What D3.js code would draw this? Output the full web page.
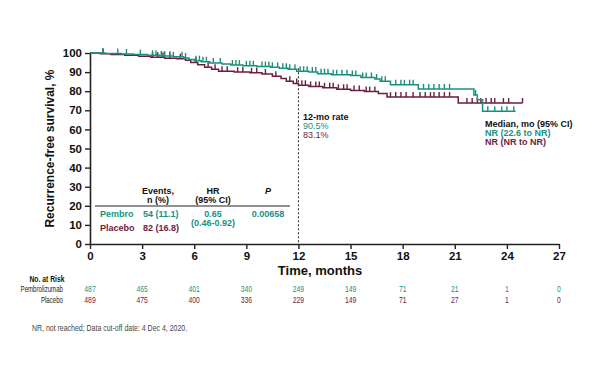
<!DOCTYPE html>
<html>
<head>
<meta charset="utf-8">
<script src="https://cdn.jsdelivr.net/npm/d3@7"></script>
<style>
  body { margin: 0; background: #fff; }
  svg { font-family: "Liberation Sans", Arial, sans-serif; }
</style>
</head>
<body>
<svg width="600" height="365"></svg>
<script>
// цвета серий
const teal = "#17917f";
const maroon = "#6b1d42";

// шаги кривых Каплана-Мейера: [месяц, выживаемость после шага]
const pembroSteps = [
  [0, 100], [0.9, 99.8], [1.8, 99.5], [2.5, 99.2], [3.3, 98.8], [4.0, 98.4],
  [4.8, 98.0], [5.4, 97.4], [5.7, 96.6], [6.0, 96.0], [6.4, 95.4], [6.9, 94.8],
  [7.6, 94.2], [8.1, 93.7], [8.8, 93.3], [9.6, 92.9], [10.4, 92.5], [10.9, 92.0],
  [11.4, 91.5], [11.9, 90.5], [12.6, 90.0], [13.1, 89.2], [13.9, 88.6], [15.0, 88.2],
  [15.6, 87.2], [16.4, 86.4], [16.7, 85.2], [17.3, 83.4], [18.9, 81.2], [22.1, 78.0],
  [22.3, 75.5], [22.6, 69.5]
];
const pembroEnd = 24.5;

const placeboSteps = [
  [0, 100], [0.6, 99.6], [1.2, 99.2], [2.0, 98.8], [2.8, 98.3], [3.5, 97.8],
  [4.3, 97.3], [5.0, 97.0], [5.5, 96.2], [5.8, 95.0], [6.2, 93.8], [6.6, 92.6],
  [7.0, 91.5], [7.4, 90.4], [8.3, 90.0], [9.2, 89.6], [9.9, 89.0], [10.5, 87.8],
  [11.0, 86.6], [11.3, 85.2], [11.7, 84.0], [12.0, 83.1], [12.6, 82.5], [13.4, 81.8],
  [14.2, 81.0], [15.0, 80.4], [15.8, 79.8], [16.6, 78.8], [17.1, 76.9], [21.2, 73.8]
];
const placeboEnd = 24.9;

// цензурированные наблюдения (месяцы)
const pembroCensor = [
  0.75, 1.6, 2.1, 2.9, 3.6, 3.8, 4.1, 4.3, 4.6, 4.8, 5.3, 5.5, 6.1, 6.3, 6.5, 6.7,
  7.1, 7.5, 8.2, 8.4, 8.6, 9.0, 9.2, 9.4, 9.9, 10.1, 10.3, 10.5, 10.8, 11.1, 11.3,
  11.5, 11.8, 12.1, 12.3, 12.5, 12.8, 13.0, 13.3, 13.5, 13.7, 14.0, 14.2, 14.5, 14.8,
  15.1, 15.3, 15.7, 15.9, 16.2, 16.5, 16.8, 17.0, 17.6, 17.9, 18.1, 18.4, 18.6,
  19.2, 19.5, 19.8, 20.1, 20.4, 20.7, 22.2, 22.9, 23.3, 23.7, 24.0, 24.4
];
const placeboCensor = [
  0.75, 3.6, 3.9, 4.2, 4.6, 5.2, 6.1, 6.8, 7.2, 7.6, 7.9, 8.5, 8.8, 9.3, 9.6, 10.1,
  10.7, 11.5, 11.9, 12.2, 12.4, 12.7, 13.0, 13.2, 13.5, 13.8, 14.0, 14.3, 14.6, 14.8,
  15.2, 15.5, 15.9, 16.1, 16.4, 17.3, 17.6, 17.9, 18.2, 18.6, 19.0, 19.3, 19.6,
  19.8, 20.1, 20.4, 20.7, 21.7, 22.0, 22.3, 22.5, 22.8, 23.1, 23.3, 23.8, 24.1, 24.9
];

// подписи осей
const xTicks = [0, 3, 6, 9, 12, 15, 18, 21, 24, 27];
const yTicks = [0, 10, 20, 30, 40, 50, 60, 70, 80, 90, 100];

// число пациентов под риском
const riskPembro = [487, 465, 401, 340, 249, 149, 71, 21, 1, 0];
const riskPlacebo = [489, 475, 400, 336, 229, 149, 71, 27, 1, 0];

const svg = d3.select("svg");

const area = { left: 90, right: 559, top: 53, bottom: 244 };

const scX = d3.scaleLinear().domain([0, 27]).range([area.left, area.right]);
const scY = d3.scaleLinear().domain([0, 100]).range([area.bottom, area.top]);

// оси
const axisX = svg.append("g")
  .attr("transform", `translate(0, ${area.bottom})`)
  .call(d3.axisBottom(scX).tickValues(xTicks).tickSize(5).tickPadding(3).tickSizeOuter(0));
const axisY = svg.append("g")
  .attr("transform", `translate(${area.left}, 0)`)
  .call(d3.axisLeft(scY).tickValues(yTicks).tickSize(5).tickPadding(3).tickSizeOuter(0));

[axisX, axisY].forEach(g => {
  g.select(".domain").attr("stroke", "#222").attr("stroke-width", 1.6);
  g.selectAll(".tick line").attr("stroke", "#222").attr("stroke-width", 1.4);
  g.selectAll("text")
    .attr("fill", "#111")
    .style("font-size", "11.5px")
    .style("font-weight", "bold")
    .style("font-family", "'Liberation Sans', Arial, sans-serif");
});

svg.append("text")
  .attr("transform", `translate(54, ${(area.top + area.bottom) / 2}) rotate(-90)`)
  .attr("text-anchor", "middle")
  .style("font-size", "12px")
  .style("font-weight", "bold")
  .attr("fill", "#111")
  .text("Recurrence-free survival, %");

svg.append("text")
  .attr("x", 320).attr("y", 275)
  .attr("text-anchor", "middle")
  .style("font-size", "13px")
  .style("font-weight", "bold")
  .attr("fill", "#111")
  .text("Time, months");

// пунктир на 12 месяцах
svg.append("line")
  .attr("x1", scX(12)).attr("x2", scX(12))
  .attr("y1", scY(92)).attr("y2", area.bottom)
  .attr("stroke", "#222")
  .attr("stroke-width", 1)
  .attr("stroke-dasharray", "2,2");

// кривые
function stepPoints(steps, end) {
  const pts = [];
  steps.forEach((d, i) => {
    if (i > 0) pts.push([d[0], steps[i - 1][1]]);
    pts.push(d);
  });
  pts.push([end, steps[steps.length - 1][1]]);
  return pts;
}

function survAt(steps, t) {
  let v = steps[0][1];
  for (const s of steps) { if (s[0] <= t) v = s[1]; }
  return v;
}

function drawCurve(steps, end, censor, color) {
  const line = d3.line().x(d => scX(d[0])).y(d => scY(d[1]));
  svg.append("path")
    .attr("d", line(stepPoints(steps, end)))
    .attr("fill", "none")
    .attr("stroke", color)
    .attr("stroke-width", 1.5);

  svg.selectAll(null)
    .data(censor)
    .enter()
    .append("line")
    .attr("x1", d => scX(d)).attr("x2", d => scX(d))
    .attr("y1", d => scY(survAt(steps, d)))
    .attr("y2", d => scY(survAt(steps, d)) - 5)
    .attr("stroke", color)
    .attr("stroke-width", 1.4);
}

drawCurve(placeboSteps, placeboEnd, placeboCensor, maroon);
drawCurve(pembroSteps, pembroEnd, pembroCensor, teal);

// 12-месячная выживаемость
svg.append("text").attr("x", 303).attr("y", 120)
  .style("font-size", "9px").style("font-weight", "bold").attr("fill", "#111")
  .text("12-mo rate");
svg.append("text").attr("x", 303).attr("y", 129)
  .style("font-size", "9px").attr("fill", teal).text("90.5%");
svg.append("text").attr("x", 303).attr("y", 138)
  .style("font-size", "9px").attr("fill", maroon).text("83.1%");

// медиана
svg.append("text").attr("x", 485).attr("y", 127)
  .style("font-size", "9px").style("font-weight", "bold").attr("fill", "#111")
  .text("Median, mo (95% CI)");
svg.append("text").attr("x", 485).attr("y", 136)
  .style("font-size", "9px").style("font-weight", "bold").attr("fill", teal)
  .text("NR (22.6 to NR)");
svg.append("text").attr("x", 485).attr("y", 145)
  .style("font-size", "9px").style("font-weight", "bold").attr("fill", maroon)
  .text("NR (NR to NR)");

// таблица HR
const tbl = svg.append("g").style("font-size", "9px").style("font-weight", "bold");
tbl.append("text").attr("x", 158).attr("y", 194).attr("text-anchor", "middle").attr("fill", "#111").text("Events,");
tbl.append("text").attr("x", 158).attr("y", 203).attr("text-anchor", "middle").attr("fill", "#111").text("n (%)");
tbl.append("text").attr("x", 213).attr("y", 194).attr("text-anchor", "middle").attr("fill", "#111").text("HR");
tbl.append("text").attr("x", 213).attr("y", 203).attr("text-anchor", "middle").attr("fill", "#111").text("(95% CI)");
tbl.append("text").attr("x", 268).attr("y", 194).attr("text-anchor", "middle").attr("fill", "#111")
  .style("font-style", "italic").text("P");
tbl.append("line").attr("x1", 95).attr("x2", 290).attr("y1", 206).attr("y2", 206)
  .attr("stroke", "#222").attr("stroke-width", 1);
tbl.append("text").attr("x", 100).attr("y", 217).attr("fill", teal).text("Pembro");
tbl.append("text").attr("x", 143).attr("y", 217).attr("fill", teal).text("54 (11.1)");
tbl.append("text").attr("x", 213).attr("y", 217).attr("text-anchor", "middle").attr("fill", teal).text("0.65");
tbl.append("text").attr("x", 268).attr("y", 217).attr("text-anchor", "middle").attr("fill", teal).text("0.00658");
tbl.append("text").attr("x", 213).attr("y", 226).attr("text-anchor", "middle").attr("fill", teal).text("(0.46-0.92)");
tbl.append("text").attr("x", 100).attr("y", 231).attr("fill", maroon).text("Placebo");
tbl.append("text").attr("x", 143).attr("y", 231).attr("fill", maroon).text("82 (16.8)");

// узкий текст: сжимаем по горизонтали
function narrowText(x, y, str, anchor, color, size, sx, bold) {
  const t = svg.append("text")
    .attr("transform", `translate(${x}, ${y}) scale(${sx}, 1)`)
    .attr("text-anchor", anchor)
    .style("font-size", size + "px")
    .attr("fill", color)
    .text(str);
  if (bold) t.style("font-weight", "bold");
  return t;
}

// число под риском
narrowText(47, 282, "No. at Risk", "middle", "#111", 8.5, 0.8, true);
narrowText(63, 292, "Pembrolizumab", "end", "#222", 8.5, 0.72);
narrowText(63, 303, "Placebo", "end", "#222", 8.5, 0.72);

riskPembro.forEach((d, i) => narrowText(scX(xTicks[i]), 292, d, "middle", teal, 8.5, 0.8));
riskPlacebo.forEach((d, i) => narrowText(scX(xTicks[i]), 303, d, "middle", maroon, 8.5, 0.8));

// сноска
narrowText(32, 331, "NR, not reached; Data cut-off date: 4 Dec 4, 2020.", "start", "#444", 8.5, 0.82);
</script>
</body>
</html>
